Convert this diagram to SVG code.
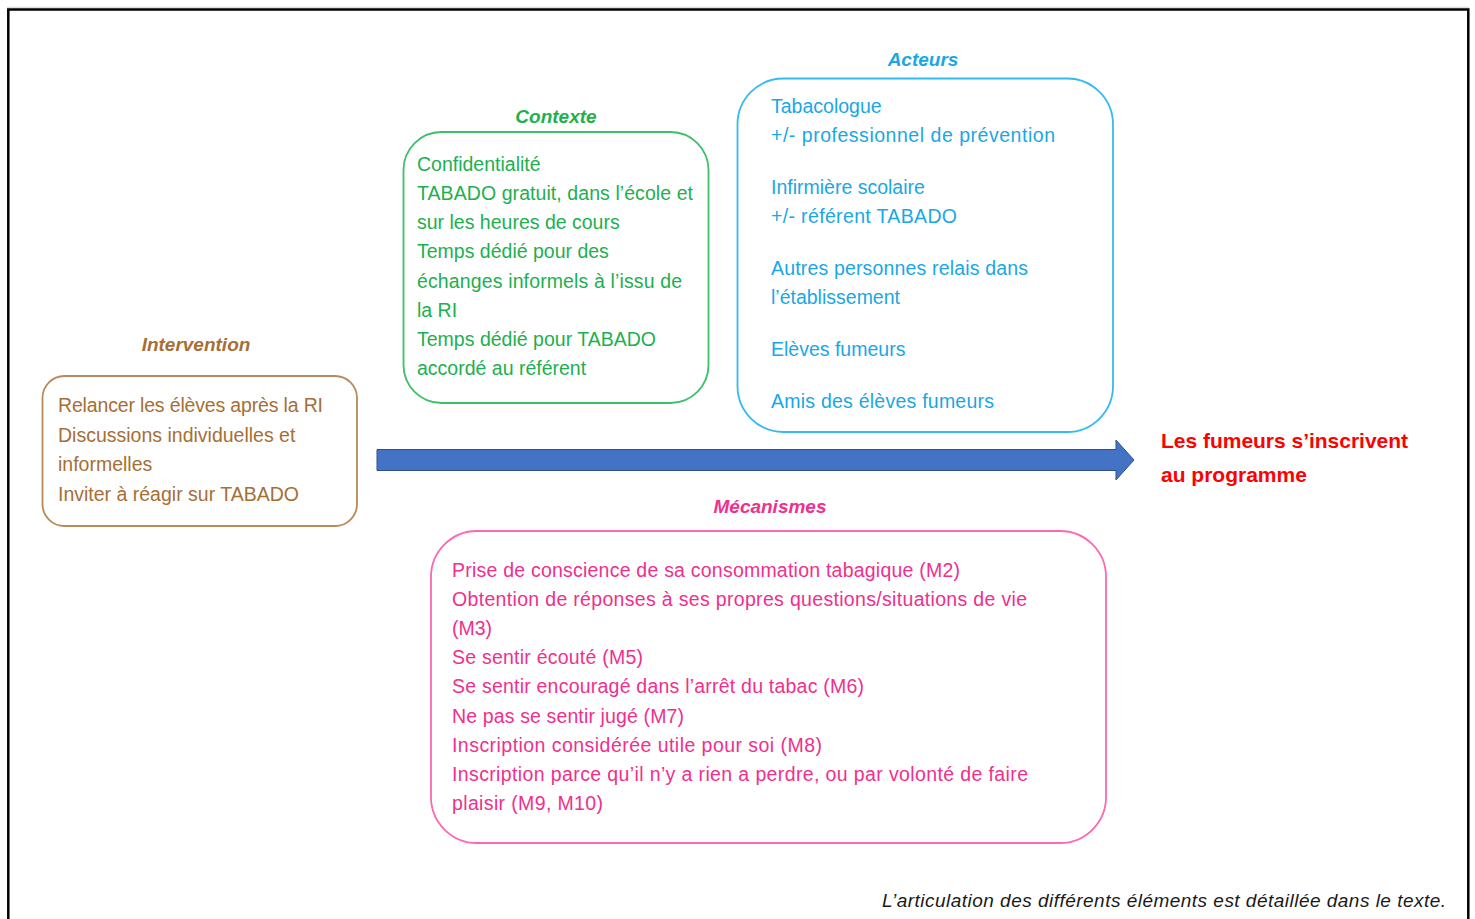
<svg xmlns="http://www.w3.org/2000/svg" width="1475" height="919" viewBox="0 0 1475 919">
<style>
text{font-family:"Liberation Sans",Arial,sans-serif;font-size:19.5px}
.title{font-weight:bold;font-style:italic;font-size:19px;text-anchor:middle}
.box{fill:none;stroke-width:1.8}
.brown{fill:#A66F35}
.green{fill:#1DB04F}
.blue{fill:#1AA7E6}
.pink{fill:#F0308C}
</style>
<rect width="1475" height="919" fill="#fff"/>
<line x1="7" y1="7.5" x2="1469" y2="7.5" stroke="#ddd" stroke-width="1.5"/>
<path d="M8.3 925 V9.5 H1468.3 V925" fill="none" stroke="#000" stroke-width="2.5"/>

<g id="intervention">
<text class="title brown" x="196" y="351">Intervention</text>
<rect class="box" x="42.5" y="376" width="314.5" height="150" rx="22" stroke="#B88A5A"/>
<text class="brown" x="58" y="412" textLength="265">Relancer les élèves après la RI</text>
<text class="brown" x="58" y="442">Discussions individuelles et</text>
<text class="brown" x="58" y="471">informelles</text>
<text class="brown" x="58" y="501">Inviter à réagir sur TABADO</text>
</g>

<g id="contexte">
<text class="title green" x="556" y="123">Contexte</text>
<rect class="box" x="403.5" y="132" width="305" height="271" rx="38" stroke="#3CC06A"/>
<text class="green" x="417" y="171">Confidentialité</text>
<text class="green" x="417" y="200" textLength="276">TABADO gratuit, dans l’école et</text>
<text class="green" x="417" y="229">sur les heures de cours</text>
<text class="green" x="417" y="258">Temps dédié pour des</text>
<text class="green" x="417" y="288" textLength="265">échanges informels à l’issu de</text>
<text class="green" x="417" y="317">la RI</text>
<text class="green" x="417" y="346" textLength="239">Temps dédié pour TABADO</text>
<text class="green" x="417" y="375">accordé au référent</text>
</g>

<g id="acteurs">
<text class="title blue" x="923" y="66">Acteurs</text>
<rect class="box" x="737.5" y="78.5" width="375.5" height="353.5" rx="46" stroke="#33BBF0"/>
<text class="blue" x="771" y="113">Tabacologue</text>
<text class="blue" x="771" y="142" textLength="284">+/- professionnel de prévention</text>
<text class="blue" x="771" y="194">Infirmière scolaire</text>
<text class="blue" x="771" y="223" textLength="186">+/- référent TABADO</text>
<text class="blue" x="771" y="275" textLength="257">Autres personnes relais dans</text>
<text class="blue" x="771" y="304">l’établissement</text>
<text class="blue" x="771" y="356">Elèves fumeurs</text>
<text class="blue" x="771" y="408" textLength="223">Amis des élèves fumeurs</text>
</g>

<g id="resultat">
<text x="1161" y="448" font-size="21" font-weight="bold" fill="#FF0000" textLength="247" style="font-size:21px">Les fumeurs s’inscrivent</text>
<text x="1161" y="482" font-weight="bold" fill="#FF0000" style="font-size:21px">au programme</text>
</g>

<g id="mecanismes">
<text class="title pink" x="770" y="513">Mécanismes</text>
<rect class="box" x="431" y="531" width="675" height="312" rx="46" stroke="#FF66B3"/>
<text class="pink" x="452" y="577" textLength="508">Prise de conscience de sa consommation tabagique (M2)</text>
<text class="pink" x="452" y="606" textLength="575">Obtention de réponses à ses propres questions/situations de vie</text>
<text class="pink" x="452" y="635">(M3)</text>
<text class="pink" x="452" y="664" textLength="191">Se sentir écouté (M5)</text>
<text class="pink" x="452" y="693" textLength="412">Se sentir encouragé dans l’arrêt du tabac (M6)</text>
<text class="pink" x="452" y="723" textLength="232">Ne pas se sentir jugé (M7)</text>
<text class="pink" x="452" y="752" textLength="370">Inscription considérée utile pour soi (M8)</text>
<text class="pink" x="452" y="781" textLength="576">Inscription parce qu’il n’y a rien a perdre, ou par volonté de faire</text>
<text class="pink" x="452" y="810" textLength="151">plaisir (M9, M10)</text>
</g>

<g id="connectors">
<path d="M377 449.5 H1116 V440 L1134 460 L1116 480 V470.5 H377 Z" fill="#4472C4" stroke="#2F528F" stroke-width="1"/>
</g>

<text x="1446" y="907" text-anchor="end" font-style="italic" fill="#1a1a1a" textLength="564" style="font-size:19px">L’articulation des différents éléments est détaillée dans le texte.</text>
</svg>
